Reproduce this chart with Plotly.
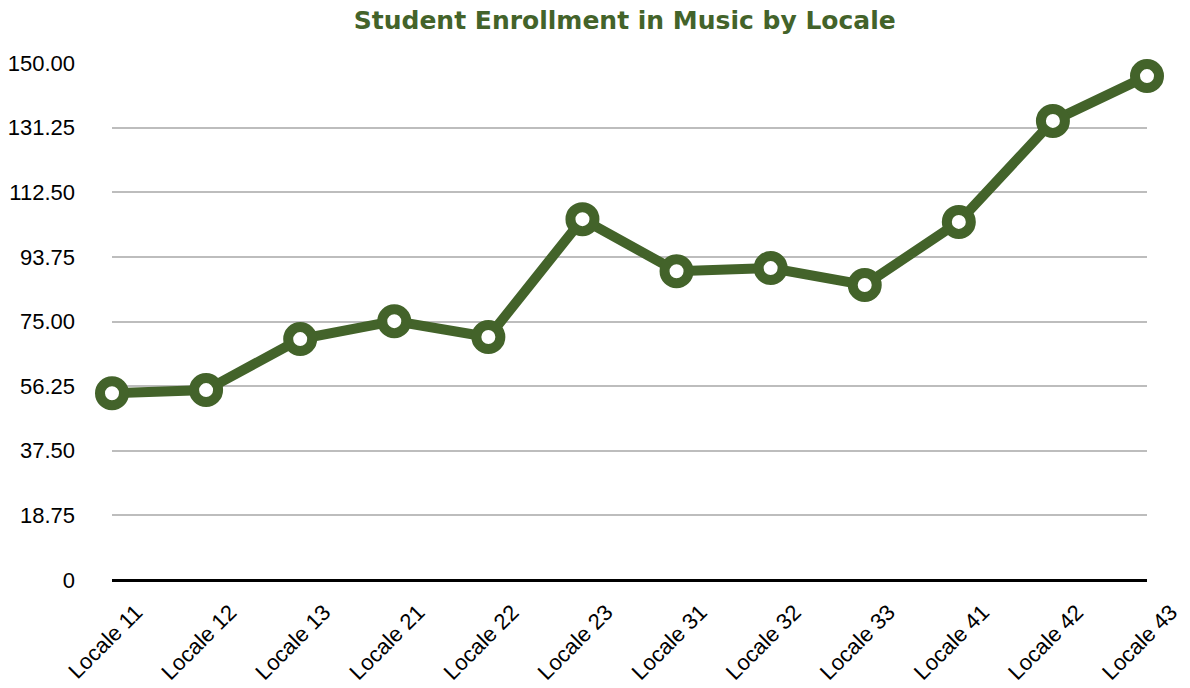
import plotly.graph_objects as go

categories = ["Locale 11", "Locale 12", "Locale 13", "Locale 21", "Locale 22", "Locale 23",
              "Locale 31", "Locale 32", "Locale 33", "Locale 41", "Locale 42", "Locale 43"]
values = [54.2, 55.1, 69.9, 75.1, 70.5, 104.7, 89.6, 90.5, 85.6, 103.9, 133.2, 146.2]
y_tickvals = [0, 18.75, 37.5, 56.25, 75, 93.75, 112.5, 131.25, 150]
y_ticktext = ["0", "18.75", "37.50", "56.25", "75.00", "93.75", "112.50", "131.25", "150.00"]

green = "#43632A"

fig = go.Figure()
fig.add_trace(go.Scatter(
    x=list(range(len(categories))), y=values, mode="lines+markers",
    line=dict(color=green, width=10),
    marker=dict(size=24, color="white", line=dict(color=green, width=10)),
    cliponaxis=False, showlegend=False,
))

fig.update_layout(
    width=1190, height=688,
    margin=dict(l=112, r=43, t=63, b=108),
    paper_bgcolor="white", plot_bgcolor="white",
    font=dict(family="Liberation Sans, Arial, sans-serif", size=22, color="black"),
    title=dict(text="<b>Student Enrollment in Music by Locale</b>", x=0.525, xanchor="center",
               y=0.971, yanchor="middle",
               font=dict(family="DejaVu Sans, sans-serif", size=25, color=green)),
    xaxis=dict(range=[0, 11], tickmode="array", tickvals=list(range(len(categories))),
               ticktext=categories, tickangle=-45, showgrid=False, zeroline=False,
               showline=False, ticks="", tickfont=dict(size=22), automargin=False,
               ticklabelshift=24, ticklabelstandoff=14),
    yaxis=dict(range=[0, 150], tickmode="array", tickvals=y_tickvals, ticktext=y_ticktext,
               showgrid=True, gridcolor="#BDBDBD", gridwidth=2, zeroline=True,
               zerolinecolor="black", zerolinewidth=3, ticks="", ticklen=0, automargin=False,
               ticklabelstandoff=36, tickfont=dict(size=22)),
)

fig.write_html("out.html", config={"displayModeBar": False},
               post_script="document.body.style.margin='0';document.body.style.overflow='hidden';")
